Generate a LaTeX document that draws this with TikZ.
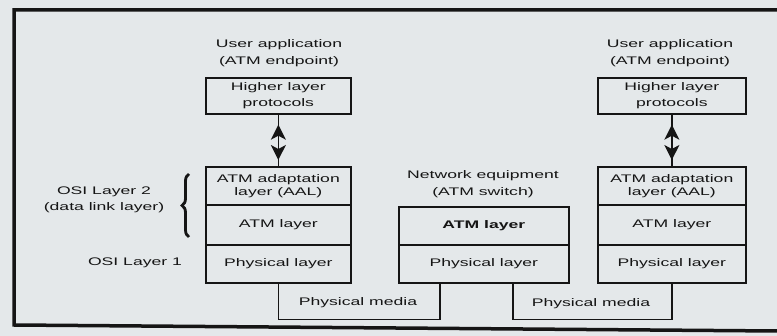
\documentclass[tikz,border=0pt]{standalone}
\usepackage{fontspec}
\setmainfont{Liberation Sans}[FakeStretch=1.6]
\usetikzlibrary{arrows.meta,decorations.pathreplacing,calc}
\definecolor{bg}{HTML}{E4E8EA}
\definecolor{ink}{HTML}{151515}
\tikzset{
  lay/.style={draw=ink, line width=1.7pt, anchor=north west, inner sep=0pt,
    align=center, text=ink, font=\fontsize{11}{13}\selectfont},
  lbl/.style={inner sep=0pt, align=center, text=ink, font=\fontsize{11}{16.5}\selectfont},
  med/.style={draw=ink, line width=1.6pt},
  dbl/.style={draw=ink, line width=1.5pt,
    {Stealth[length=15pt,width=15pt,inset=4pt]}-{Stealth[length=15pt,width=15pt,inset=4pt]},
    shorten <=10pt, shorten >=6pt},
  frame/.style={draw=ink, line width=3.5pt, line join=miter}
}
\begin{document}
\begin{tikzpicture}[x=1pt,y=-1pt]
\fill[bg] (0,0) rectangle (777,336);
\useasboundingbox (0,0) rectangle (777,336);
% frame
\draw[frame] (777,10) -- (14,10) -- (14,325) -- (777,331);

% left end point
\node[lbl] (uaL) at (279,53) {User application\\(ATM endpoint)};
\node[lay, minimum width=145pt, minimum height=36pt, font=\fontsize{11}{16}\selectfont] (hlpL) at (205,77) {Higher layer\\protocols};
\node[lay, minimum width=145pt, minimum height=38pt] (aalL) at (205,166) {ATM adaptation\\layer (AAL)};
\node[lay, minimum width=145pt, minimum height=40pt] (atmL) at (205,204) {ATM layer};
\node[lay, minimum width=145pt, minimum height=38pt] (phyL) at (205,244) {Physical layer};

% right end point
\node[lbl] (uaR) at (670,53) {User application\\(ATM endpoint)};
\node[lay, minimum width=148pt, minimum height=36pt, font=\fontsize{11}{16}\selectfont] (hlpR) at (597,77) {Higher layer\\protocols};
\node[lay, minimum width=148pt, minimum height=38pt] (aalR) at (597,166) {ATM adaptation\\layer (AAL)};
\node[lay, minimum width=148pt, minimum height=40pt] (atmR) at (597,204) {ATM layer};
\node[lay, minimum width=148pt, minimum height=38pt] (phyR) at (597,244) {Physical layer};

% switch
\node[lbl] (neq) at (483,184) {Network equipment\\(ATM switch)};
\node[lay, minimum width=170pt, minimum height=38pt, font=\fontsize{11}{13}\selectfont\bfseries] (atmM) at (398,206) {ATM layer};
\node[lay, minimum width=170pt, minimum height=38pt] (phyM) at (398,244) {Physical layer};

% OSI labels
\node[lbl] (osi2) at (104,200) {OSI Layer 2\\(data link layer)};
\node[lbl] (osi1) at (135,263) {OSI Layer 1};
\draw[ink, line width=2.8pt, decorate, decoration={brace, amplitude=7pt}] (189,237) -- (189,174);

% arrows
\draw[ink, line width=1.5pt] (hlpL.south) -- (aalL.north);
\draw[dbl] (hlpL.south) -- (aalL.north);
\draw[ink, line width=1.5pt] (hlpR.south) -- (aalR.north);
\draw[dbl] (hlpR.south) -- (aalR.north);

% physical media
\coordinate (m1) at ($(phyM.south west)+(42,0)$);
\coordinate (m2) at ($(phyM.south west)+(115,0)$);
\draw[med] (phyL.south) -- ++(0,36) -| (m1);
\draw[med] (m2) -- ++(0,36) -| (phyR.south);
\node[lbl] (pm1) at (358,303) {Physical media};
\node[lbl] (pm2) at (591,304) {Physical media};
\end{tikzpicture}
\end{document}
